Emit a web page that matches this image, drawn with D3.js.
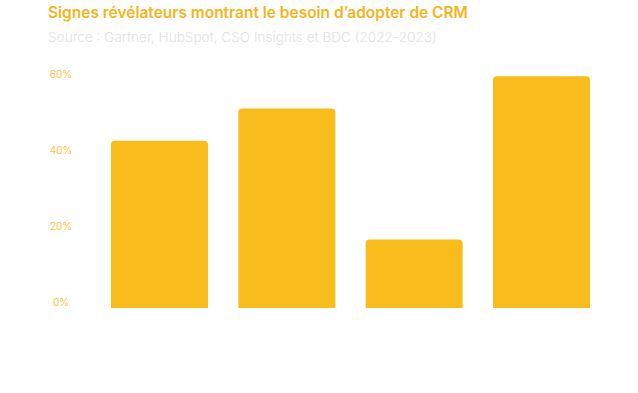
<!DOCTYPE html>
<html><head><meta charset="utf-8">
<script src="https://cdn.jsdelivr.net/npm/d3@7"></script>
<style>html,body{margin:0;padding:0;background:#fff;}svg{display:block;}</style>
</head><body>
<div id="chart"></div>
<script>
const title = "Signes révélateurs montrant le besoin d’adopter de CRM";
const subtitle = "Source : Gartner, HubSpot, CSO Insights et BDC (2022-2023)";
const categories = ["Données clients dispersées", "Suivi des ventes difficile", "Perte de prospects", "Besoin d’automatisation"];
const values = [44, 52.5, 18, 61];
const yTicks = [0, 20, 40, 60];

const W = 638, H = 393;
const svg = d3.select("#chart").append("svg").attr("width", W).attr("height", H);
const font = "Inter, 'Noto Sans', sans-serif";

const t = svg.append("text").attr("x", 48).attr("y", 18)
  .attr("font-family", font).attr("font-weight", 600).attr("font-size", 16)
  .attr("fill", "#F6B41C").text(title);
fit(t, 420);
const s = svg.append("text").attr("x", 48).attr("y", 42)
  .attr("font-family", font).attr("font-weight", 300).attr("font-size", 13)
  .attr("fill", "#E2E2E2").text(subtitle);
fit(s, 389);

function fit(sel, w) {
  const len = sel.node().getComputedTextLength();
  const fs = +sel.attr("font-size");
  sel.attr("font-size", fs * w / len);
}

const x = d3.scaleBand().domain(categories).range([95.7, 605.3])
  .paddingInner(0.238).paddingOuter(0.12);
const y = d3.scaleLinear().domain([0, 60]).range([308, 80]);

const ax = svg.append("g").attr("transform", "translate(61,0)")
  .call(d3.axisLeft(y).tickValues(yTicks).tickSize(0).tickFormat(d => d + "%"));
ax.select(".domain").remove();
ax.selectAll("text").attr("x", 0).attr("dy", "-3px").attr("text-anchor", "middle")
  .attr("font-family", font).attr("font-size", 10).attr("fill", "#F8C443");

const r = 4;
svg.append("g").selectAll("path").data(values).join("path")
  .attr("fill", "#F8BC1C")
  .attr("d", (v, i) => {
    const x0 = x(categories[i]), w = x.bandwidth(), y0 = y(v), y1 = y(0);
    return `M${x0},${y1}V${y0 + r}Q${x0},${y0} ${x0 + r},${y0}H${x0 + w - r}Q${x0 + w},${y0} ${x0 + w},${y0 + r}V${y1}Z`;
  });
</script>
</body></html>
